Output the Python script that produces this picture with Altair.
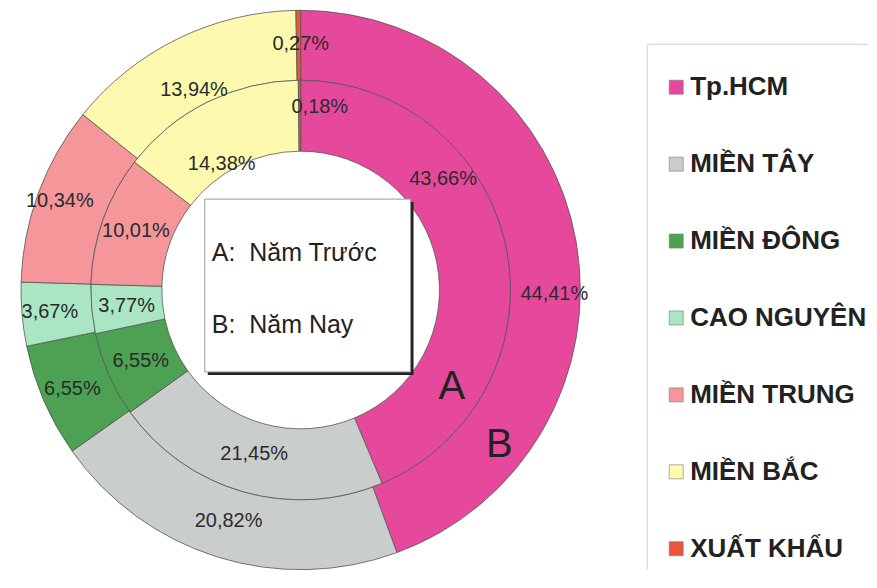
import altair as alt
import pandas as pd

# ---- data ----
regions = ["Tp.HCM", "MIỀN TÂY", "MIỀN ĐÔNG", "CAO NGUYÊN", "MIỀN TRUNG", "MIỀN BẮC", "XUẤT KHẨU"]
nam_truoc = [43.66, 21.45, 6.55, 3.77, 10.01, 14.38, 0.18]   # A: inner ring
nam_nay = [44.41, 20.82, 6.55, 3.67, 10.34, 13.94, 0.27]     # B: outer ring
colors = ["#E6499B", "#C9CDCB", "#4DA152", "#AAE6C3", "#F4969A", "#FDFAAF", "#EB553C"]

# ---- layout (label nudges: degrees, pixels) ----
label_nudge = {
    ("A", "Tp.HCM"): (-26.6, 6), ("B", "Tp.HCM"): (11, 6),
    ("A", "MIỀN TÂY"): (0, -4), ("B", "MIỀN TÂY"): (0, -6),
    ("B", "MIỀN ĐÔNG"): (0, 1), ("B", "CAO NGUYÊN"): (0, 4),
    ("B", "MIỀN TRUNG"): (0, 9),
    ("A", "MIỀN BẮC"): (-5.5, -26), ("B", "MIỀN BẮC"): (-2, -21),
    ("A", "XUẤT KHẨU"): (6.3, 9), ("B", "XUẤT KHẨU"): (0.5, -2),
}
ring_label_r = {"A": 175, "B": 248}

rows = []
for ring, vals in (("A", nam_truoc), ("B", nam_nay)):
    cum = 0.0
    for i, (reg, v) in enumerate(zip(regions, vals)):
        dth, dr = label_nudge.get((ring, reg), (0, 0))
        rows.append({
            "ring": ring, "region": reg, "idx": i, "value": v,
            "label": f"{v:.2f}".replace(".", ",") + "%",
            "pos": cum + v / 2 + dth / 3.6,
            "r": ring_label_r[ring] + dr,
        })
        cum += v
df = pd.DataFrame(rows)

FONT = "Liberation Sans"
theta_scale = alt.Scale(domain=[0, 100])
color = alt.Color(
    "region:N",
    scale=alt.Scale(domain=regions, range=colors),
    legend=alt.Legend(
        title=None, orient="none", legendX=656, legendY=64,
        symbolType="square", symbolSize=196, symbolStrokeColor="#777",
        symbolStrokeWidth=0.6, labelFont=FONT, labelFontSize=26,
        labelFontWeight="bold", labelColor="#222", rowPadding=51,
        labelOffset=1, labelLimit=300, padding=0,
    ),
)

inner = alt.Chart(df).transform_filter("datum.ring == 'A'").mark_arc(
    outerRadius=210, innerRadius=139, stroke="#555", strokeWidth=0.8
).encode(
    theta=alt.Theta("value:Q", stack=True, scale=theta_scale),
    order=alt.Order("idx:Q"),
    color=color,
)
outer = alt.Chart(df).transform_filter("datum.ring == 'B'").mark_arc(
    outerRadius=280, innerRadius=210, stroke="#555", strokeWidth=0.8
).encode(
    theta=alt.Theta("value:Q", stack=True, scale=theta_scale),
    order=alt.Order("idx:Q"),
    color=color,
)

labels = alt.Chart(df).mark_text(
    font=FONT, fontSize=20, color="#2b2b2b", align="center", baseline="middle"
).encode(
    theta=alt.Theta("pos:Q", stack=False, scale=theta_scale),
    radius=alt.Radius("r:Q", scale=None),
    text="label:N",
)

one = alt.Data(values=[{}])
shadow = alt.Chart(one).mark_rect(fill="#222").encode(
    x=alt.value(200), x2=alt.value(406), y=alt.value(192), y2=alt.value(365)
)
box = alt.Chart(one).mark_rect(fill="white", stroke="#999", strokeWidth=1).encode(
    x=alt.value(197), x2=alt.value(403), y=alt.value(189), y2=alt.value(362)
)
box_a = alt.Chart(one).mark_text(
    font=FONT, fontSize=25, color="#222", align="left", baseline="alphabetic"
).encode(x=alt.value(204), y=alt.value(251), text=alt.value("A:\u00a0 Năm Trước"))
box_b = alt.Chart(one).mark_text(
    font=FONT, fontSize=25, color="#222", align="left", baseline="alphabetic"
).encode(x=alt.value(204), y=alt.value(323), text=alt.value("B:\u00a0 Năm Nay"))

big_a = alt.Chart(one).mark_text(
    font=FONT, fontSize=40, color="#222", theta=2.142, radius=180,
    align="center", baseline="middle"
).encode(text=alt.value("A"))
big_b = alt.Chart(one).mark_text(
    font=FONT, fontSize=40, color="#222", theta=2.232, radius=252,
    align="center", baseline="middle"
).encode(text=alt.value("B"))

leg_top = alt.Chart(one).mark_rule(color="#C5D3E0", strokeWidth=1).encode(
    x=alt.value(640), x2=alt.value(861), y=alt.value(34)
)
leg_left = alt.Chart(one).mark_rule(color="#C5D3E0", strokeWidth=1).encode(
    x=alt.value(640), y=alt.value(34), y2=alt.value(560)
)

chart = alt.layer(
    outer, inner, labels, shadow, box, box_a, box_b, big_a, big_b, leg_top, leg_left
).properties(width=586, height=560, padding=0).configure_view(stroke=None)

chart.save("out.html", embed_options={"renderer": "svg", "actions": False})
